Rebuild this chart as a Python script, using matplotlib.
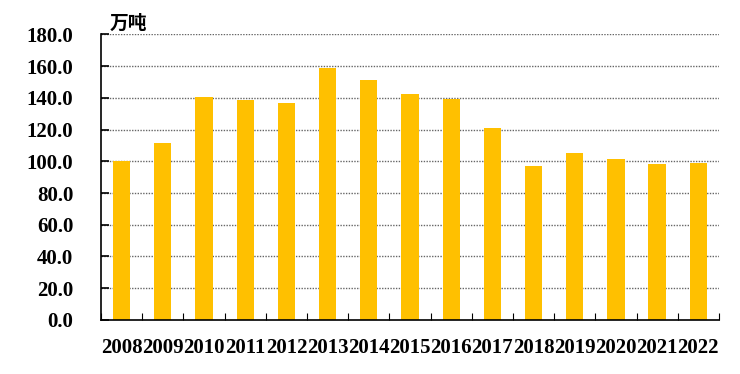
import matplotlib
matplotlib.use("Agg")
from matplotlib import pyplot as plt
import numpy as np

years = ["2008", "2009", "2010", "2011", "2012", "2013", "2014", "2015",
         "2016", "2017", "2018", "2019", "2020", "2021", "2022"]
output = [100.2, 111.6, 140.4, 138.5, 136.6, 158.7, 151.2, 142.3,
          139.3, 121.0, 97.0, 105.0, 101.3, 98.0, 98.8]
yticks = [0, 20, 40, 60, 80, 100, 120, 140, 160, 180]
unit = "万吨"

num_font = "Liberation Serif"

fig = plt.figure(figsize=(7.4, 3.74), dpi=100)
ax = fig.add_axes([0.1365, 0.1444, 0.835, 0.764])

x = np.arange(len(years))
ax.bar(x, output, width=0.42, color="#FFC000", zorder=2)

ax.set_xlim(-0.5, len(years) - 0.5)
ax.set_ylim(0, 180)
ax.set_yticks(yticks)
ax.set_yticklabels(["%.1f" % v for v in yticks], family=num_font,
                   fontweight="bold", fontsize=15)
ax.set_xticks(x)
ax.set_xticklabels(years, family=num_font, fontweight="bold", fontsize=15)
ax.set_xticks(np.arange(-0.5, len(years), 1.0), minor=True)

ax.tick_params(axis="y", direction="in", length=6, width=1.2, pad=20)
ax.tick_params(axis="x", which="major", length=0, pad=13)
ax.tick_params(axis="x", which="minor", direction="in", length=5, width=0.8)

for v in yticks[1:]:
    ax.axhline(v, color="#666666", linestyle=(0, (1, 1)), linewidth=1.0, zorder=1)

for s in ["top", "right"]:
    ax.spines[s].set_visible(False)
ax.spines["left"].set_linewidth(1.2)
ax.spines["bottom"].set_linewidth(1.2)

fig.text(0.148, 0.912, unit, family=["Noto Sans CJK SC", "DejaVu Sans"],
         fontweight="bold", fontsize=13.5, ha="left", va="bottom")

fig.savefig("out.png", dpi=100)
